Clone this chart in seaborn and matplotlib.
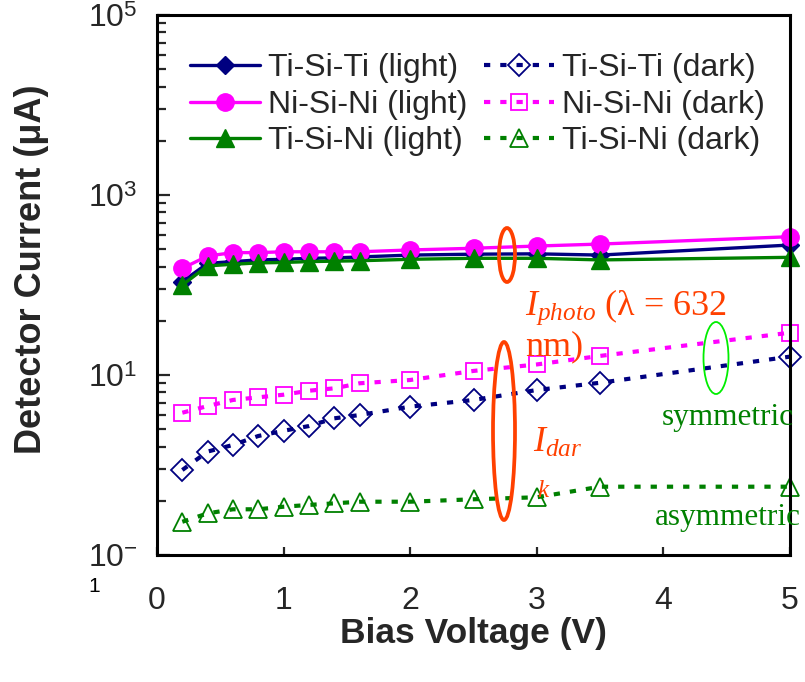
import matplotlib
matplotlib.use("Agg")
import matplotlib.pyplot as plt
import seaborn as sns
import numpy as np
import pandas as pd
from matplotlib.patches import Ellipse
from matplotlib.ticker import FixedLocator, FixedFormatter, NullFormatter

# ---------------- data ----------------
volts = [0.2, 0.4, 0.6, 0.8, 1.0, 1.2, 1.4, 1.6, 2.0, 2.5, 3.0, 3.5, 5.0]

ti_ti_light = [109, 174, 182, 190, 193, 198, 200, 205, 215, 220, 222, 215, 278]
ni_ni_light = [153, 210, 229, 229, 234, 234, 234, 234, 245, 256, 271, 285, 344]
ti_ni_light = [100, 163, 170, 176, 178, 182, 184, 186, 193, 198, 198, 190, 203]

ti_ti_dark = [0.88, 1.41, 1.67, 2.10, 2.40, 2.71, 3.30, 3.59, 4.45, 5.28, 6.81, 8.2, 16.0]
ni_ni_dark = [3.81, 4.52, 5.28, 5.65, 6.04, 6.69, 7.11, 8.09, 8.8, 11.1, 13.1, 16.3, 29.5]
ti_ni_dark = [0.234, 0.29, 0.322, 0.322, 0.344, 0.36, 0.375, 0.391, 0.391, 0.416, 0.438, 0.574, 0.574]

series_labels = ["Ti-Si-Ti (light)", "Ni-Si-Ni (light)", "Ti-Si-Ni (light)",
                 "Ti-Si-Ti (dark)", "Ni-Si-Ni (dark)", "Ti-Si-Ni (dark)"]
x_ticks = [0, 1, 2, 3, 4, 5]
y_major = [0.1, 10, 1000, 100000]
y_major_labels = [r"$10^{-}$", r"$10^{1}$", r"$10^{3}$", r"$10^{5}$"]

# ---------------- style ----------------
sns.set_style("white")
plt.rcParams["font.family"] = ["Liberation Sans", "DejaVu Sans"]
plt.rcParams["mathtext.fontset"] = "custom"
plt.rcParams["mathtext.rm"] = "Liberation Sans"
plt.rcParams["mathtext.it"] = "Liberation Serif:italic"
plt.rcParams["mathtext.bf"] = "Liberation Sans:bold"

NAVY = "#000080"
MAG = "#FF00FF"
GRN = "#008000"
RED = "#FF4000"

fig = plt.figure(figsize=(8.05, 6.82), dpi=100)
ax = fig.add_axes([157 / 805, 1 - 555 / 682, 633 / 805, 540 / 682])

light_specs = [
    (ti_ti_light, NAVY, "D", 9),
    (ni_ni_light, MAG, "o", 12.5),
    (ti_ni_light, GRN, "^", 13),
]
dark_specs = [
    (ti_ti_dark, NAVY, "D", 11.5),
    (ni_ni_dark, MAG, "s", 12),
    (ti_ni_dark, GRN, "^", 13),
]

for (vals, col, mk, ms), lab in zip(light_specs, series_labels[:3]):
    df = pd.DataFrame({"V": volts, "I": vals})
    sns.lineplot(data=df, x="V", y="I", ax=ax, color=col, marker=mk,
                 markersize=ms, markeredgecolor=col, markerfacecolor=col,
                 markeredgewidth=1.0, linewidth=2.4, label=lab, legend=False,
                 clip_on=False)

for (vals, col, mk, ms), lab in zip(dark_specs, series_labels[3:]):
    df = pd.DataFrame({"V": volts, "I": vals})
    sns.lineplot(data=df, x="V", y="I", ax=ax, color=col, marker=mk,
                 markersize=ms, markeredgecolor=col, markerfacecolor="none",
                 markeredgewidth=1.3, linewidth=3.0,
                 linestyle=(0, (1.5, 2.4)), label=lab, legend=False,
                 clip_on=False)

ax.set_yscale("log")
ax.set_xlim(0, 5)
ax.set_ylim(0.1, 1e5)

ax.xaxis.set_major_locator(FixedLocator(x_ticks))
ax.yaxis.set_major_locator(FixedLocator(y_major))
ax.yaxis.set_major_formatter(FixedFormatter(y_major_labels))
minor_vals = [m * k * k for m in (0.1, 10, 1000) for k in range(2, 10)]
ax.yaxis.set_minor_locator(FixedLocator(minor_vals))
ax.yaxis.set_minor_formatter(NullFormatter())

ax.tick_params(axis="x", which="major", direction="in", length=6, width=1.6,
               labelsize=23, pad=22, top=False, bottom=True)
ax.tick_params(axis="y", which="major", direction="in", length=9, width=1.6,
               labelsize=23, pad=14, right=False, left=True)
ax.tick_params(axis="y", which="minor", direction="in", length=6.5, width=1.6,
               right=False, left=True)
for sp in ax.spines.values():
    sp.set_linewidth(2.2)
    sp.set_color("black")

ax.set_xlabel("Bias Voltage (V)", fontsize=25.5, fontweight="bold")
ax.set_ylabel("Detector Current (\u03bcA)", fontsize=26, fontweight="bold")
ax.xaxis.set_label_coords(0.5, -0.115)
ax.yaxis.set_label_coords(-0.17, 0.53)

# small "1" of the wrapped 10^-1 label
fig.text(88 / 805, 1 - 592 / 682, "1", fontsize=15, color="black")

# legend
h, l = ax.get_legend_handles_labels()
leg = ax.legend(h, l, ncol=2, loc="upper left",
                bbox_to_anchor=((190 - 157) / 633, (555 - 53) / 540),
                frameon=False, fontsize=23, handlelength=2.2,
                handletextpad=0.25, columnspacing=0.5, labelspacing=0.21,
                borderpad=0, borderaxespad=0)

# ellipses
ax.add_patch(Ellipse(((507 - 157) / 633, (555 - 255) / 540), 16 / 633, 54 / 540,
                     transform=ax.transAxes, fill=False, ec=RED, lw=2.7, zorder=5))
ax.add_patch(Ellipse(((504 - 157) / 633, (555 - 431) / 540), 22 / 633, 178 / 540,
                     transform=ax.transAxes, fill=False, ec=RED, lw=2.7, zorder=5))
ax.add_patch(Ellipse(((716 - 157) / 633, (555 - 358) / 540), 25 / 633, 72 / 540,
                     transform=ax.transAxes, fill=False, ec="#00EE00", lw=1.3, zorder=5))

# annotation texts
serif = ["Liberation Serif", "DejaVu Serif"]
ax.text((525 - 157) / 633, (555 - 315) / 540, "$I_{photo}$ (\u03bb = 632",
        transform=ax.transAxes, color=RED, fontsize=26, family=serif, va="baseline")
ax.text((525 - 157) / 633, (555 - 355) / 540, "nm)",
        transform=ax.transAxes, color=RED, fontsize=26, family=serif, va="baseline")
ax.text((533 - 157) / 633, (555 - 452) / 540, "$I_{dar}$",
        transform=ax.transAxes, color=RED, fontsize=26, family=serif, va="baseline")
ax.text((537 - 157) / 633, (555 - 497) / 540, "k", style="italic",
        transform=ax.transAxes, color=RED, fontsize=18, family=serif, va="baseline")
ax.text((662 - 157) / 633, (555 - 425) / 540, "symmetric",
        transform=ax.transAxes, color=GRN, fontsize=22.5, family=serif, va="baseline")
ax.text((655 - 157) / 633, (555 - 525) / 540, "asymmetric",
        transform=ax.transAxes, color=GRN, fontsize=22.5, family=serif, va="baseline")

fig.savefig("out.png", dpi=100)
